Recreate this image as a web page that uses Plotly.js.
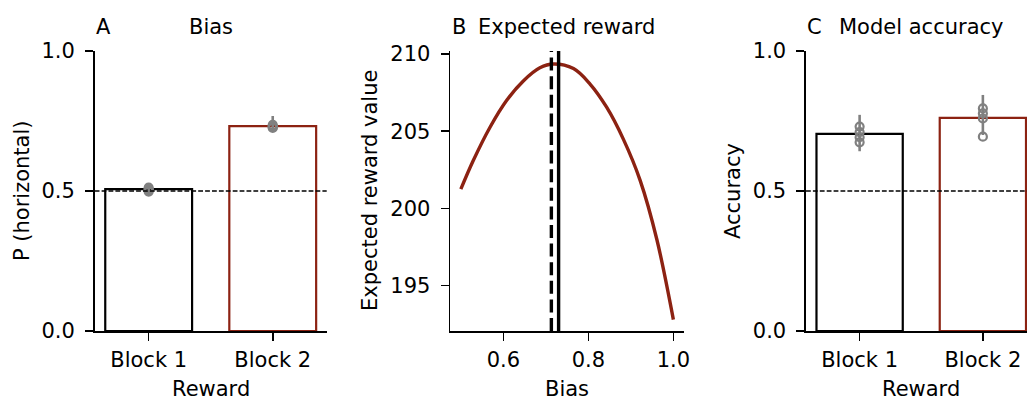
<!DOCTYPE html>
<html>
<head>
<meta charset="utf-8">
<script src="https://cdn.plot.ly/plotly-3.0.1.min.js"></script>
<style>
  html, body { margin: 0; padding: 0; background: #fff; overflow: hidden; }
  #chart { width: 1027px; height: 401px; }
</style>
</head>
<body>
<div id="chart"></div>
<script>
// ---- data ----
const blocks = ['Block 1', 'Block 2'];

// A: probability of a horizontal choice per block
const biasMeans = [0.507, 0.732];
const biasPoints = [[0.512, 0.507, 0.503, 0.498], [0.736, 0.732, 0.728, 0.725]];
const biasSpread = [[0.496, 0.514], [0.722, 0.768]];

// B: expected reward as a function of bias
const biasGrid = [0.500, 0.529, 0.569, 0.608, 0.647, 0.686, 0.718, 0.765, 0.804, 0.843, 0.882, 0.922, 0.961, 1.000];
const expectedReward = [201.24, 203.08, 205.27, 207.0, 208.25, 209.1, 209.35, 209.05, 208.05, 206.55, 204.5, 201.8, 198.0, 192.8];
const optimalBias = 0.713;
const observedBias = 0.730;

// C: model accuracy per block
const accMeans = [0.704, 0.761];
const accPoints = [[0.730, 0.710, 0.692, 0.674], [0.795, 0.777, 0.759, 0.694]];
const accSpread = [[0.642, 0.772], [0.700, 0.843]];

const chanceLevel = 0.5;

// ---- styling ----
const RED = '#8c2212';
const GREY = '#808080';
const FONT = 'DejaVu Sans';
const FS = 21;
const W = 1027, H = 401;
const px = v => v / W;          // horizontal pixel -> paper
const py = v => (H - v) / H;    // vertical pixel -> paper

const yDom = [py(331), py(51)];

function barTrace(means, xa, ya) {
  return {
    type: 'bar', x: blocks, y: means, width: 0.7,
    xaxis: xa, yaxis: ya,
    marker: { color: 'rgba(0,0,0,0)', line: { color: ['#000000', RED], width: 2.2 } },
    hoverinfo: 'skip', showlegend: false
  };
}
function spreadTraces(spread, xa, ya) {
  return spread.map((s, i) => ({
    type: 'scatter', mode: 'lines', x: [blocks[i], blocks[i]], y: s,
    xaxis: xa, yaxis: ya, line: { color: GREY, width: 2.6 },
    hoverinfo: 'skip', showlegend: false
  }));
}
function pointTraces(points, xa, ya) {
  return points.map((p, i) => ({
    type: 'scatter', mode: 'markers', x: p.map(() => blocks[i]), y: p,
    xaxis: xa, yaxis: ya,
    marker: { symbol: 'circle-open', size: 8, color: GREY, line: { color: GREY, width: 2.2 } },
    hoverinfo: 'skip', showlegend: false
  }));
}

const data = [
  barTrace(biasMeans, 'x', 'y'),
  ...spreadTraces(biasSpread, 'x', 'y'),
  ...pointTraces(biasPoints, 'x', 'y'),
  {
    type: 'scatter', mode: 'lines', x: biasGrid, y: expectedReward,
    xaxis: 'x2', yaxis: 'y2',
    line: { color: RED, width: 3.4, shape: 'spline', smoothing: 1 },
    hoverinfo: 'skip', showlegend: false
  },
  barTrace(accMeans, 'x3', 'y3'),
  ...spreadTraces(accSpread, 'x3', 'y3'),
  ...pointTraces(accPoints, 'x3', 'y3')
];

const axisBase = {
  showline: true, linecolor: '#000', linewidth: 1.6,
  ticks: 'outside', ticklen: 8, tickwidth: 1.6, tickcolor: '#000',
  showgrid: false, zeroline: false, fixedrange: true,
  tickfont: { family: FONT, size: FS, color: '#000' }
};

const layout = {
  width: W, height: H,
  margin: { l: 0, r: 0, t: 0, b: 0 },
  paper_bgcolor: '#fff', plot_bgcolor: 'rgba(0,0,0,0)',
  showlegend: false,
  bargap: 0,
  xaxis: Object.assign({}, axisBase, {
    domain: [px(94.7), px(326.7)], anchor: 'y', type: 'category',
    range: [-0.435, 1.435], ticklabelstandoff: 1
  }),
  yaxis: Object.assign({}, axisBase, {
    domain: yDom, anchor: 'x', range: [0, 1],
    tickvals: [0, 0.5, 1], tickformat: '.1f', ticklabelstandoff: 6
  }),
  xaxis2: Object.assign({}, axisBase, {
    domain: [px(450.2), px(684)], anchor: 'y2',
    range: [0.475, 1.025], tickvals: [0.6, 0.8, 1.0], tickformat: '.1f', ticklabelstandoff: 1
  }),
  yaxis2: Object.assign({}, axisBase, {
    domain: yDom, anchor: 'x2', range: [192.06, 210.19],
    tickvals: [195, 200, 205, 210], ticklabelstandoff: 6
  }),
  xaxis3: Object.assign({}, axisBase, {
    domain: [px(806), 1], anchor: 'y3', type: 'category',
    range: [-0.435, 1.358], ticklabelstandoff: 1
  }),
  yaxis3: Object.assign({}, axisBase, {
    domain: yDom, anchor: 'x3', range: [0, 1],
    tickvals: [0, 0.5, 1], tickformat: '.1f', ticklabelstandoff: 6
  }),
  shapes: [
    { type: 'line', xref: 'x domain', x0: 0, x1: 1, yref: 'y', y0: chanceLevel, y1: chanceLevel,
      line: { color: '#000', width: 1.3, dash: '4.8px,2.1px' } },
    { type: 'line', xref: 'x3 domain', x0: 0, x1: 1, yref: 'y3', y0: chanceLevel, y1: chanceLevel,
      line: { color: '#000', width: 1.3, dash: '4.8px,2.1px' } },
    { type: 'line', xref: 'x2', x0: optimalBias, x1: optimalBias, yref: 'y2 domain', y0: 0, y1: 1,
      line: { color: '#000', width: 3.4, dash: '13px,5.6px' } },
    { type: 'line', xref: 'x2', x0: observedBias, x1: observedBias, yref: 'y2 domain', y0: 0, y1: 1,
      line: { color: '#000', width: 3.4 } }
  ],
  annotations: []
};

function txt(text, x, y, opts) {
  return Object.assign({
    text: text, xref: 'paper', yref: 'paper', x: px(x), y: py(y),
    showarrow: false, font: { family: FONT, size: FS, color: '#000' },
    xanchor: 'center', yanchor: 'middle'
  }, opts || {});
}

layout.annotations.push(
  // panel letters and titles
  txt('A', 94, 27, { xanchor: 'left' }),
  txt('Bias', 210.7, 27),
  txt('B', 450, 27, { xanchor: 'left' }),
  txt('Expected reward', 566, 27),
  txt('C', 805, 27, { xanchor: 'left' }),
  txt('Model accuracy', 921, 27),
  // axis titles
  txt('Reward', 210.7, 389),
  txt('Bias', 567, 389),
  txt('Reward', 921, 389),
  txt('P (horizontal)', 22, 191, { textangle: -90 }),
  txt('Expected reward value', 370, 191, { textangle: -90 }),
  txt('Accuracy', 733, 191, { textangle: -90 })
);

Plotly.newPlot('chart', data, layout, { displayModeBar: false, staticPlot: true });
</script>
</body>
</html>
